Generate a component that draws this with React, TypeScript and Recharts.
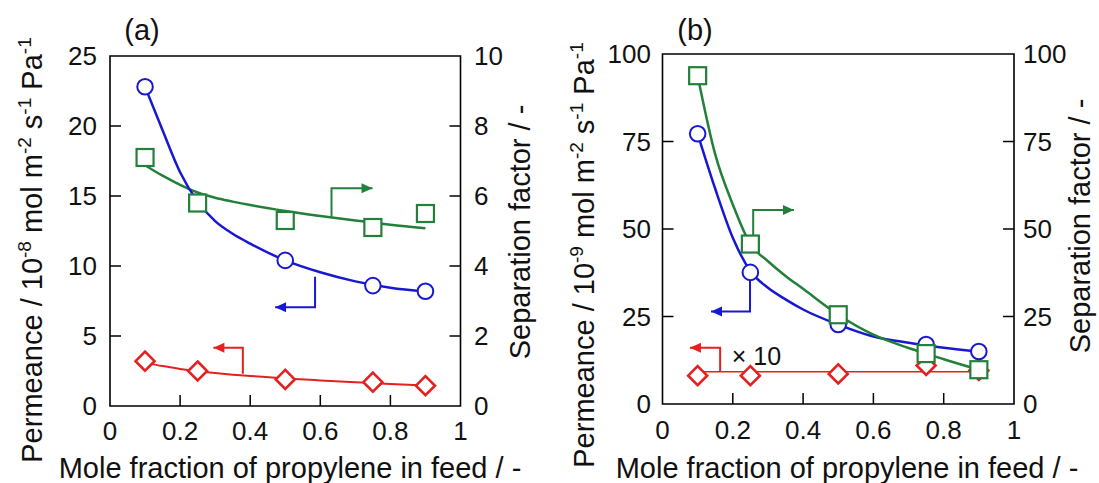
import React from "react"
import { ComposedChart, Line, Scatter, XAxis, YAxis, ReferenceArea, ReferenceDot } from "recharts"

// mole fraction of propylene at the measured points, and along the fitted curves
const feedFraction = [0.1, 0.25, 0.5, 0.75, 0.9]
const fitFraction = [0.1, 0.15, 0.2, 0.25, 0.3, 0.35, 0.4, 0.5, 0.6, 0.7, 0.8, 0.9]

// panel (a): permeance in 1e-8, separation factor on right axis
const c3h6PermA = [22.8, 14.5, 10.4, 8.6, 8.2]
const c3h8PermA = [3.2, 2.5, 1.9, 1.7, 1.45]
const sepFactorA = [7.1, 5.8, 5.3, 5.1, 5.5]
const c3h6FitA = [22.8, 19.7, 16.7, 14.6, 13.2, 12.3, 11.6, 10.4, 9.55, 8.9, 8.45, 8.17]
const c3h8FitA = [3.1, 2.85, 2.65, 2.48, 2.35, 2.24, 2.15, 1.97, 1.83, 1.7, 1.58, 1.47]
const sepFitA = [6.88, 6.58, 6.32, 6.1, 5.95, 5.84, 5.74, 5.57, 5.43, 5.3, 5.18, 5.08]

// panel (b): permeance in 1e-9 (propane x10), separation factor on right axis
const c3h6PermB = [77.2, 37.6, 22.7, 17.0, 15.0]
const c3h8PermB = [8.1, 8.1, 8.6, 11.0, 9.6]
const sepFactorB = [93.8, 45.7, 25.5, 14.4, 9.8]
const c3h6FitB = [77.2, 61.5, 47.5, 38.0, 33.2, 29.9, 27.0, 22.7, 19.3, 17.5, 16.1, 15.0]
const sepFitB = [93.8, 71.3, 57.0, 45.7, 40.8, 36.6, 32.9, 25.5, 19.8, 16.0, 12.8, 9.8]
const c3h8FitXB = [0.1, 0.9]
const c3h8FitB = [9.2, 9.2]

// axis ticks
const xTicks = [0, 0.2, 0.4, 0.6, 0.8, 1]
const permTicksA = [0, 5, 10, 15, 20, 25]
const sepTicksA = [0, 2, 4, 6, 8, 10]
const ticksB = [0, 25, 50, 75, 100]

// annotation arrows [x, y] in data units, last point is the tip
const arrowSepA = [[0.632, 5.41], [0.632, 6.22], [0.749, 6.22]]
const arrowC3h6A = [[0.585, 9.24], [0.585, 7.05], [0.471, 7.05]]
const arrowC3h8A = [[0.379, 2.3], [0.379, 4.16], [0.295, 4.16]]
const arrowSepB = [[0.258, 48.3], [0.258, 55.4], [0.374, 55.4]]
const arrowC3h6B = [[0.249, 35.4], [0.249, 26.4], [0.138, 26.4]]
const arrowC3h8B = [[0.164, 9.2], [0.164, 16.1], [0.078, 16.1]]

const FONT = "'Liberation Sans', Arial, sans-serif"
const BLUE = "#1818d0"
const GREEN = "#23803a"
const RED = "#e42020"
const TICK_LEN = 11
const TICK_FS = 26
const TITLE_FS = 29

const pts = (xs: number[], ys: number[]) => xs.map((x, i) => ({ x, y: ys[i] }))

function leftTick(max: number, gap: number) {
  return (p: any) => {
    const v = p.payload.value
    return (
      <g>
        {v !== 0 && v !== max && <line x1={p.x} x2={p.x + TICK_LEN} y1={p.y} y2={p.y} stroke="#000" strokeWidth={1.5} />}
        <text x={p.x - gap} y={p.y + 9} textAnchor="end" fontSize={TICK_FS} fontFamily={FONT} fill="#111">{v}</text>
      </g>
    )
  }
}

function rightTick(max: number, gap: number) {
  return (p: any) => {
    const v = p.payload.value
    return (
      <g>
        {v !== 0 && v !== max && <line x1={p.x} x2={p.x - TICK_LEN} y1={p.y} y2={p.y} stroke="#000" strokeWidth={1.5} />}
        <text x={p.x + gap} y={p.y + 9} textAnchor="start" fontSize={TICK_FS} fontFamily={FONT} fill="#111">{v}</text>
      </g>
    )
  }
}

function bottomTick(dy: number) {
  return (p: any) => {
    const v = p.payload.value
    return (
      <g>
        {v !== 0 && v !== 1 && <line x1={p.x} x2={p.x} y1={p.y} y2={p.y - TICK_LEN} stroke="#000" strokeWidth={1.5} />}
        <text x={p.x} y={p.y + dy} textAnchor="middle" fontSize={TICK_FS} fontFamily={FONT} fill="#111">{v}</text>
      </g>
    )
  }
}

function arrowDot(arrow: number[][], color: string) {
  const n = arrow.length
  const dir = Math.sign(arrow[n - 1][0] - arrow[n - 2][0])
  return (p: any) => {
    if (p.index !== n - 1) return <g key={`d${p.index}`} />
    const { cx, cy } = p
    return (
      <polygon key={`d${p.index}`} fill={color}
        points={`${cx},${cy} ${cx - dir * 11},${cy - 5} ${cx - dir * 11},${cy + 5}`} />
    )
  }
}

const circle = (color: string) => (p: any) =>
  <circle cx={p.cx} cy={p.cy} r={7.8} fill="#fff" stroke={color} strokeWidth={2} />
const square = (color: string) => (p: any) =>
  <rect x={p.cx - 8.5} y={p.cy - 8.5} width={17} height={17} fill="#fff" stroke={color} strokeWidth={2.2} />
const diamond = (color: string) => (p: any) =>
  <polygon points={`${p.cx},${p.cy - 9.5} ${p.cx + 9.5},${p.cy} ${p.cx},${p.cy + 9.5} ${p.cx - 9.5},${p.cy}`}
    fill="#fff" stroke={color} strokeWidth={2.6} />

const sup = (s: string) => <tspan dy={-11} fontSize={19}>{s}</tspan>

function PermTitle({ x, y, exp }: { x: number; y: number; exp: string }) {
  return (
    <text x={x} y={y} transform={`rotate(-90 ${x} ${y})`} textAnchor="middle" fontSize={TITLE_FS}
      fontFamily={FONT} fill="#111" style={{ whiteSpace: "pre" }}>
      <tspan>Permeance / 10</tspan>
      {sup(exp)}
      <tspan dy={11}> mol m</tspan>
      {sup("-2")}
      <tspan dy={11}> s</tspan>
      {sup("-1")}
      <tspan dy={11}> Pa</tspan>
      {sup("-1")}
    </text>
  )
}

type Series = { xs: number[]; ys: number[]; axis: string; color: string; w: number }
type Marks = { xs: number[]; ys: number[]; axis: string; shape: (p: any) => React.ReactElement }
type Arrow = { pts: number[][]; axis: string; color: string }

type PanelProps = {
  tag: string
  left: number
  width: number
  top: number
  leftW: number
  rightW: number
  xH: number
  leftMax: number
  leftTicks: number[]
  rightMax: number
  rightTicks: number[]
  exp: string
  gaps: number[]
  xDy: number
  titles: number[]
  curves: Series[]
  marks: Marks[]
  arrows: Arrow[]
  note?: { x: number; y: number; text: string }
}

function Panel(cfg: PanelProps) {
  const [lx, ly, rx, ry, xx, xy, tx, ty] = cfg.titles
  return (
    <div style={{ position: "absolute", left: cfg.left, top: 0 }}>
      <ComposedChart width={cfg.width} height={483} margin={{ top: cfg.top, right: 0, bottom: 0, left: 0 }}>
        <XAxis dataKey="x" type="number" domain={[0, 1]} ticks={xTicks} interval={0} height={cfg.xH}
          axisLine={false} tickLine={false} tickSize={0} tickMargin={0} tick={bottomTick(cfg.xDy)}
          label={() => (
            <text x={xx} y={xy} textAnchor="middle" fontSize={TITLE_FS} fontFamily={FONT} fill="#111">
              Mole fraction of propylene in feed / -
            </text>
          )} />
        <YAxis yAxisId="l" dataKey="y" type="number" domain={[0, cfg.leftMax]} ticks={cfg.leftTicks} interval={0}
          width={cfg.leftW} axisLine={false} tickLine={false} tickSize={0} tickMargin={0}
          tick={leftTick(cfg.leftMax, cfg.gaps[0])}
          label={() => <PermTitle x={lx} y={ly} exp={cfg.exp} />} />
        <YAxis yAxisId="r" orientation="right" dataKey="y" type="number" domain={[0, cfg.rightMax]}
          ticks={cfg.rightTicks} interval={0} width={cfg.rightW} axisLine={false} tickLine={false}
          tickSize={0} tickMargin={0} tick={rightTick(cfg.rightMax, cfg.gaps[1])}
          label={() => (
            <text x={rx} y={ry} transform={`rotate(-90 ${rx} ${ry})`} textAnchor="middle" fontSize={TITLE_FS}
              fontFamily={FONT} fill="#111">Separation factor / -</text>
          )} />
        <ReferenceArea yAxisId="l" x1={0} x2={1} y1={0} y2={cfg.leftMax} fill="none" stroke="#000"
          strokeWidth={1.6}
          label={() => (
            <text x={tx} y={ty} textAnchor="middle" fontSize={TITLE_FS} fontFamily={FONT} fill="#111">{cfg.tag}</text>
          )} />
        {cfg.curves.map((c, i) => (
          <Line key={`c${i}`} yAxisId={c.axis} data={pts(c.xs, c.ys)} dataKey="y" type="monotone"
            stroke={c.color} strokeWidth={c.w} dot={false} activeDot={false} isAnimationActive={false} />
        ))}
        {cfg.arrows.map((a, i) => (
          <Line key={`a${i}`} yAxisId={a.axis} data={a.pts.map(([x, y]) => ({ x, y }))} dataKey="y"
            type="linear" stroke={a.color} strokeWidth={2} dot={arrowDot(a.pts, a.color)} activeDot={false}
            isAnimationActive={false} />
        ))}
        {cfg.marks.map((m, i) => (
          <Scatter key={`m${i}`} yAxisId={m.axis} data={pts(m.xs, m.ys)} dataKey="y" shape={m.shape}
            isAnimationActive={false} />
        ))}
        {cfg.note && (
          <ReferenceDot yAxisId="l" x={cfg.note.x} y={cfg.note.y} r={0}
            shape={(p: any) => (
              <text x={p.cx} y={p.cy + 8} fontSize={25} fontFamily={FONT} fill="#111">{cfg.note!.text}</text>
            )} />
        )}
      </ComposedChart>
    </div>
  )
}

export default function App() {
  return (
    <div style={{ position: "absolute", left: 0, top: 0, width: 1099, height: 483, background: "#fff" }}>
      <Panel
        tag="(a)" left={0} width={549} top={56} leftW={110} rightW={88.5} xH={77}
        leftMax={25} leftTicks={permTicksA} rightMax={10} rightTicks={sepTicksA} exp="-8"
        gaps={[13, 13.5]} xDy={34} titles={[42, 250, 530, 232, 290, 478, 142, 40]}
        curves={[
          { xs: fitFraction, ys: sepFitA, axis: "r", color: GREEN, w: 2.5 },
          { xs: fitFraction, ys: c3h6FitA, axis: "l", color: BLUE, w: 2.5 },
          { xs: fitFraction, ys: c3h8FitA, axis: "l", color: RED, w: 2 },
        ]}
        marks={[
          { xs: feedFraction, ys: c3h8PermA, axis: "l", shape: diamond(RED) },
          { xs: feedFraction, ys: c3h6PermA, axis: "l", shape: circle(BLUE) },
          { xs: feedFraction, ys: sepFactorA, axis: "r", shape: square(GREEN) },
        ]}
        arrows={[
          { pts: arrowSepA, axis: "r", color: GREEN },
          { pts: arrowC3h6A, axis: "l", color: BLUE },
          { pts: arrowC3h8A, axis: "l", color: RED },
        ]}
      />
      <Panel
        tag="(b)" left={549} width={550} top={54} leftW={113.5} rightW={85} xH={79}
        leftMax={100} leftTicks={ticksB} rightMax={100} rightTicks={ticksB} exp="-9"
        gaps={[11.5, 9]} xDy={35} titles={[45, 255, 541, 226, 298, 478, 146, 40]}
        curves={[
          { xs: c3h8FitXB, ys: c3h8FitB, axis: "l", color: RED, w: 1.5 },
          { xs: fitFraction, ys: c3h6FitB, axis: "l", color: BLUE, w: 2.5 },
          { xs: fitFraction, ys: sepFitB, axis: "r", color: GREEN, w: 2.5 },
        ]}
        marks={[
          { xs: feedFraction, ys: c3h8PermB, axis: "l", shape: diamond(RED) },
          { xs: feedFraction, ys: c3h6PermB, axis: "l", shape: circle(BLUE) },
          { xs: feedFraction, ys: sepFactorB, axis: "r", shape: square(GREEN) },
        ]}
        arrows={[
          { pts: arrowSepB, axis: "r", color: GREEN },
          { pts: arrowC3h6B, axis: "l", color: BLUE },
          { pts: arrowC3h8B, axis: "l", color: RED },
        ]}
        note={{ x: 0.197, y: 13.5, text: "× 10" }}
      />
    </div>
  )
}
